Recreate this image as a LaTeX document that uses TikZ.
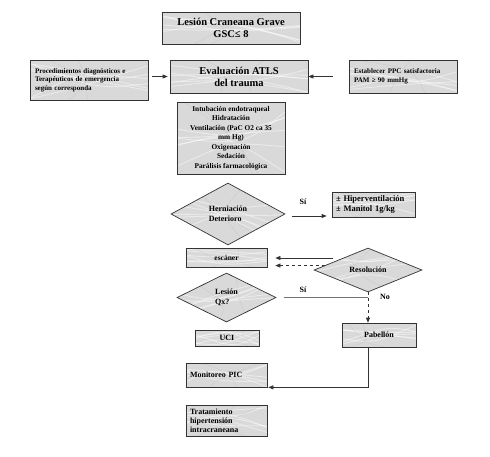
\documentclass[tikz,border=0pt]{standalone}
\usepackage{fontspec}
\setmainfont{Liberation Serif}
\usetikzlibrary{shapes.geometric,calc,arrows.meta}
\tikzset{
  marble/.style={fill=black!15, draw=black!80, line width=0.7pt,
    path picture={
      \foreach \k in {1,...,6}{
        \pgfmathsetmacro\ya{rnd}\pgfmathsetmacro\yb{rnd}
        \draw[white,opacity=.45,line width=0.9pt]
          ($(path picture bounding box.south west)!\ya!(path picture bounding box.north west)$)
          .. controls ($(path picture bounding box.center)+(rand*14pt,rand*10pt)$) ..
          ($(path picture bounding box.south east)!\yb!(path picture bounding box.north east)$);
      }
      \foreach \k in {1,...,2}{
        \pgfmathsetmacro\xa{rnd}\pgfmathsetmacro\xb{rnd}
        \draw[black!40,opacity=.18,line width=0.5pt]
          ($(path picture bounding box.south west)!\xa!(path picture bounding box.south east)$)
          .. controls ($(path picture bounding box.center)+(rand*14pt,rand*10pt)$) ..
          ($(path picture bounding box.north west)!\xb!(path picture bounding box.north east)$);
      }
    }},
  box/.style={marble, rectangle, inner sep=2pt, align=center,
    font=\bfseries\fontsize{8}{9.5}\selectfont},
  dia/.style={marble, diamond, inner sep=0pt, align=left,
    font=\bfseries\fontsize{8}{10}\selectfont},
  arr/.style={-{Triangle[length=5pt,width=4pt]}, draw=black!80, line width=0.7pt},
  gline/.style={draw=black!55, line width=0.9pt},
  lbl/.style={font=\bfseries\fontsize{8}{9}\selectfont},
}
\begin{document}
\begin{tikzpicture}[x=1pt,y=-1pt]
\pgfmathsetseed{4217}
\useasboundingbox (0,0) rectangle (490,456);

\node[box, minimum width=138pt, minimum height=32pt,
      font=\bfseries\fontsize{10.5}{12}\selectfont] (top) at (231,28)
      {Lesión Craneana Grave\\GSC≤ 8};
\node[box, minimum width=118pt, minimum height=40pt, text width=108pt, align=left,
      font=\bfseries\fontsize{7}{8.5}\selectfont] (proc) at (89,80)
      {Procedimientos diagnósticos e\\Terapéuticos de emergencia\\según corresponda};
\node[box, minimum width=138pt, minimum height=33pt,
      font=\bfseries\fontsize{10.5}{12}\selectfont] (eval) at (239,76.5)
      {Evaluación ATLS\\del trauma};
\node[box, minimum width=108pt, minimum height=33pt, text width=98pt, align=left,
      font=\bfseries\fontsize{7}{8.5}\selectfont] (estab) at (403,76.5)
      {Establecer PPC satisfactoria\\PAM ≥ 90 mmHg};
\node[box, minimum width=108pt, minimum height=72pt,
      font=\bfseries\fontsize{7.3}{9.5}\selectfont] (intub) at (231,138)
      {Intubación endotraqueal\\Hidratación\\Ventilación (PaC O2 ca 35\\mm Hg)\\Oxigenación\\Sedación\\Parálisis farmacológica};
\node[dia, minimum width=114pt, minimum height=62pt] (hern) at (228,214)
      {Herniación\\Deterioro};
\node[box, minimum width=83pt, minimum height=25pt, text width=75pt, align=left,
      font=\bfseries\fontsize{8.5}{10}\selectfont] (hiper) at (373.5,204.5)
      {± Hiperventilación\\± Manitol 1g/kg};
\node[box, minimum width=81pt, minimum height=19pt,
      font=\bfseries\fontsize{7.5}{9}\selectfont] (escaner) at (226.5,257.5) {escáner};
\node[dia, minimum width=108pt, minimum height=44pt] (resol) at (368,270) {Resolución};
\node[dia, minimum width=99pt, minimum height=49pt] (lesion) at (226.5,297.5) {Lesión\\Qx?};
\node[box, minimum width=74pt, minimum height=24pt] (pab) at (379,335) {Pabellón};
\node[box, minimum width=64pt, minimum height=16pt] (uci) at (227,338) {UCI};
\node[box, minimum width=81pt, minimum height=24pt, text width=73pt, align=left] (monit) at (226.5,375)
      {Monitoreo PIC};
\node[box, minimum width=81pt, minimum height=31pt, text width=73pt, align=left,
      font=\bfseries\fontsize{8}{9}\selectfont] (trat) at (226.5,420.5)
      {Tratamiento\\hipertensión\\intracraneana};

% connectors
\draw[arr] ([xshift=4pt]proc.east |- eval.west) -- ([xshift=-2pt]eval.west);
\draw[arr] ([xshift=-16pt]estab.west) -- (eval.east);
\draw[arr] ([xshift=7pt,yshift=-2pt]hern.east) -- ([xshift=-5pt,yshift=-2pt]hern.east -| hiper.west);
\node[lbl] (si1) at (303,202) {Sí};
\coordinate (r1) at (333,258);
\draw[arr] (r1) -- ([xshift=8pt]r1 -| escaner.east);
\coordinate (r2) at ($(resol.west)!0.2!(resol.north)$);
\draw[arr,dashed] (r2) -- ([xshift=8pt]r2 -| escaner.east);
\draw[gline] ([xshift=8pt]lesion.east) -- (lesion.east -| resol.south);
\node[lbl] (si2) at (303,290) {Sí};
\draw[arr,dashed] (resol.south) -- (resol.south |- pab.north);
\node[lbl] (no) at (385,297) {No};
\draw[arr] (resol.south |- pab.south) -- (resol.south |- monit.south) -- ([xshift=1pt]monit.south east);
\end{tikzpicture}
\end{document}
